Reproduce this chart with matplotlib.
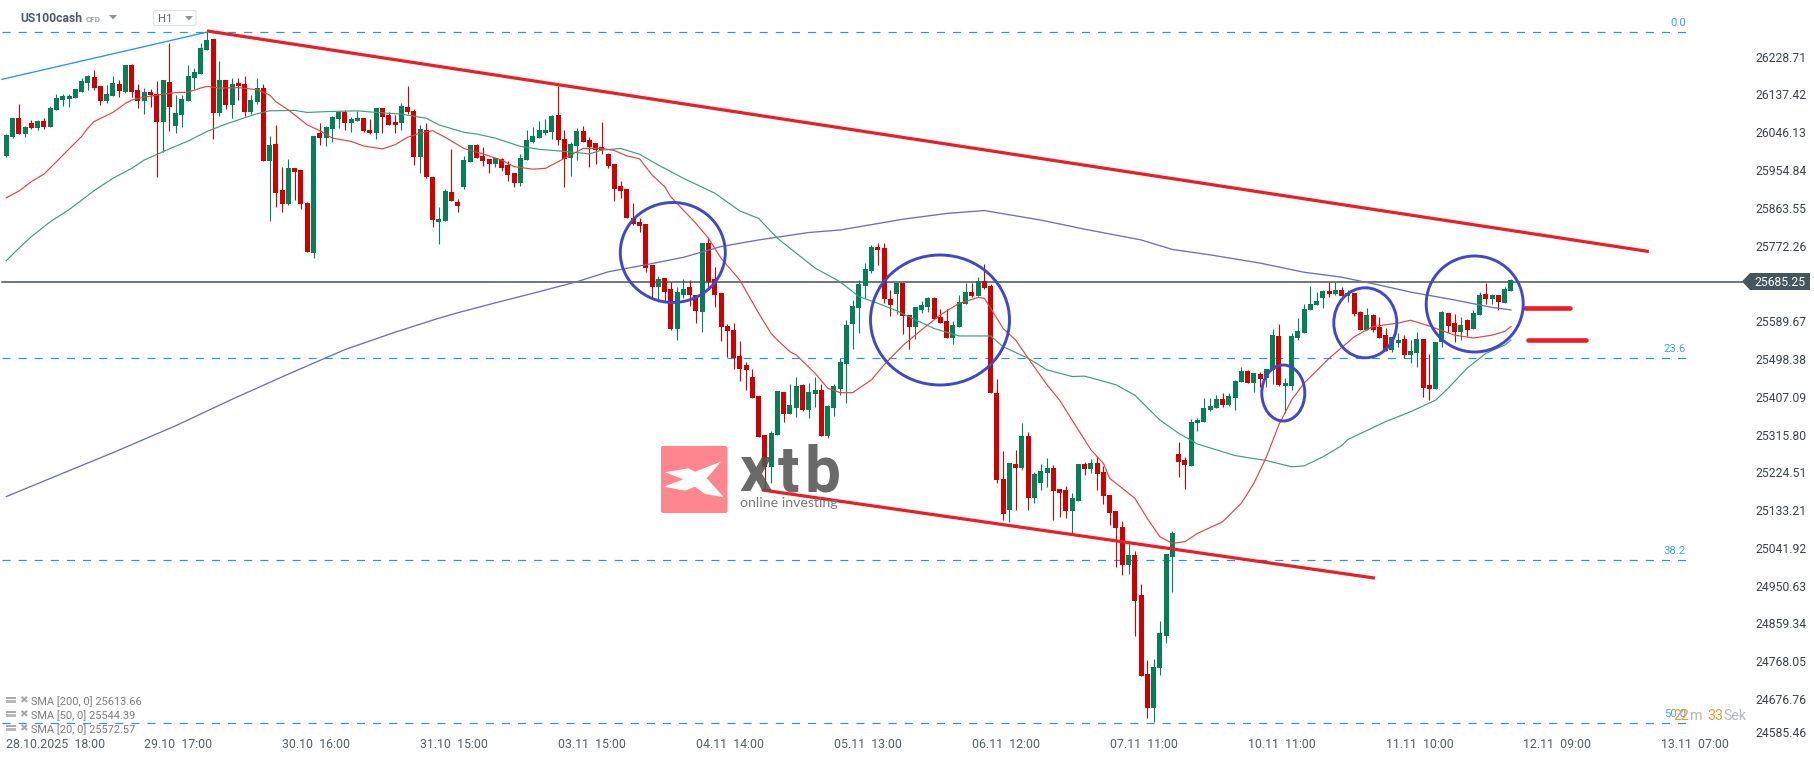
#!/usr/bin/env python3
"""US100cash H1 candles with SMA overlays, fibo levels and hand drawn channel."""

import matplotlib
matplotlib.use("Agg")
import matplotlib.pyplot as plt
import numpy as np
from matplotlib.patches import Ellipse, FancyBboxPatch, Polygon
from matplotlib.transforms import Affine2D

plt.rcParams["font.family"] = ["Roboto", "DejaVu Sans"]
plt.rcParams["lines.scale_dashes"] = False

WIDTH, HEIGHT = 1815, 761

opens = [
    25989, 26035, 26081, 26042, 26069, 26057, 26074, 26059, 26100, 26124,
    26127, 26129, 26144, 26165, 26180, 26158, 26122, 26134, 26163, 26144,
    26209, 26148, 26122, 26144, 26139, 26071, 26168, 26061, 26088, 26122,
    26178, 26187, 26245, 26272, 26093, 26173, 26112, 26165, 26163, 26095,
    26119, 26153, 25977, 26018, 25907, 25873, 25960, 25955, 25876, 25755,
    26045, 26033, 26054, 26078, 26095, 26069, 26074, 26081, 26052, 26045,
    26105, 26088, 26071, 26069, 26107, 26098, 25987, 26052, 25938, 25830,
    25832, 25902, 25878, 25914, 25974, 26016, 25989, 25982, 25970, 25982,
    25967, 25948, 25924, 25979, 26023, 26033, 26045, 26047, 26088, 26030,
    25984, 26013, 26049, 26028, 26020, 26011, 25994, 25970, 25917, 25909,
    25839, 25830, 25825, 25726, 25672, 25694, 25668, 25571, 25653, 25672,
    25653, 25612, 25779, 25692, 25658, 25578, 25569, 25506, 25484, 25455,
    25409, 25315, 25238, 25315, 25419, 25366, 25380, 25436, 25375, 25414,
    25424, 25312, 25380, 25426, 25486, 25583, 25622, 25675, 25711, 25769,
    25767, 25643, 25656, 25682, 25605, 25576, 25617, 25624, 25646, 25600,
    25590, 25549, 25576, 25631, 25660, 25651, 25687, 25675, 25416, 25208,
    25134, 25245, 25235, 25312, 25163, 25199, 25223, 25235, 25184, 25182,
    25131, 25155, 25245, 25233, 25247, 25225, 25170, 25131, 25093, 25001,
    25025, 24928, 24737, 24655, 24752, 24829, 25020, 25269, 25254, 25240,
    25344, 25346, 25375, 25380, 25402, 25387, 25404, 25443, 25469, 25440,
    25462, 25453, 25472, 25554, 25433, 25433, 25549, 25561, 25617, 25629,
    25646, 25663, 25656, 25665, 25651, 25658, 25612, 25569, 25605, 25576,
    25556, 25520, 25537, 25547, 25508, 25513, 25547, 25436, 25426, 25540,
    25610, 25585, 25564, 25593, 25571, 25605, 25656, 25643, 25653, 25634,
    25663,
]
highs = [
    26041, 26081, 26115, 26061, 26076, 26076, 26081, 26110, 26139, 26139,
    26139, 26151, 26178, 26185, 26197, 26158, 26161, 26182, 26173, 26209,
    26211, 26163, 26153, 26151, 26170, 26173, 26262, 26136, 26136, 26209,
    26202, 26262, 26291, 26272, 26219, 26173, 26178, 26178, 26182, 26136,
    26178, 26163, 26037, 26064, 25962, 25982, 25960, 25955, 25878, 26037,
    26069, 26061, 26086, 26098, 26100, 26083, 26098, 26081, 26078, 26105,
    26105, 26095, 26088, 26117, 26158, 26103, 26064, 26069, 25938, 25866,
    25909, 26006, 25885, 25989, 26016, 26018, 26011, 25982, 25984, 25984,
    25977, 25948, 25994, 26052, 26059, 26074, 26078, 26088, 26158, 26052,
    26023, 26057, 26061, 26035, 26020, 26071, 25996, 25970, 25929, 25909,
    25875, 25839, 25825, 25726, 25699, 25694, 25685, 25672, 25692, 25689,
    25653, 25779, 25793, 25721, 25658, 25583, 25585, 25542, 25491, 25474,
    25409, 25315, 25324, 25421, 25419, 25438, 25455, 25438, 25440, 25455,
    25438, 25387, 25438, 25501, 25593, 25641, 25689, 25730, 25774, 25779,
    25779, 25665, 25682, 25682, 25605, 25624, 25639, 25648, 25648, 25619,
    25619, 25590, 25653, 25682, 25682, 25697, 25728, 25680, 25450, 25276,
    25247, 25279, 25344, 25322, 25225, 25245, 25259, 25242, 25184, 25192,
    25175, 25245, 25250, 25257, 25264, 25240, 25170, 25131, 25107, 25059,
    25034, 24955, 24771, 24773, 24865, 25027, 25083, 25298, 25262, 25353,
    25356, 25404, 25404, 25411, 25416, 25416, 25448, 25479, 25472, 25465,
    25467, 25474, 25571, 25583, 25453, 25561, 25598, 25631, 25675, 25660,
    25665, 25685, 25685, 25672, 25665, 25658, 25614, 25622, 25607, 25600,
    25573, 25552, 25561, 25556, 25544, 25564, 25547, 25511, 25540, 25614,
    25610, 25607, 25600, 25595, 25617, 25660, 25682, 25656, 25653, 25672,
    25692,
]
lows = [
    25987, 26033, 26042, 26035, 26054, 26052, 26054, 26059, 26100, 26110,
    26107, 26129, 26144, 26148, 26148, 26112, 26117, 26134, 26132, 26141,
    26132, 26105, 26091, 26107, 25938, 25999, 26049, 26045, 26059, 26122,
    26151, 26187, 26245, 26030, 26086, 26103, 26081, 26124, 26086, 26091,
    26115, 25977, 25832, 25866, 25854, 25871, 25883, 25861, 25757, 25743,
    26016, 26013, 26023, 26057, 26052, 26047, 26074, 26047, 26042, 26030,
    26045, 26064, 26045, 26052, 26091, 25967, 25948, 25936, 25817, 25776,
    25832, 25880, 25854, 25909, 25974, 25984, 25965, 25948, 25962, 25953,
    25929, 25914, 25917, 25979, 26020, 26033, 26040, 26030, 26016, 25914,
    25941, 25979, 26023, 25962, 25970, 25994, 25960, 25880, 25888, 25839,
    25822, 25805, 25709, 25643, 25636, 25639, 25569, 25544, 25646, 25627,
    25585, 25564, 25665, 25624, 25542, 25503, 25474, 25445, 25424, 25404,
    25310, 25182, 25199, 25315, 25346, 25366, 25358, 25373, 25356, 25383,
    25312, 25308, 25361, 25411, 25392, 25523, 25561, 25646, 25706, 25726,
    25634, 25602, 25607, 25559, 25523, 25547, 25610, 25612, 25595, 25585,
    25549, 25535, 25576, 25631, 25648, 25651, 25668, 25416, 25199, 25109,
    25105, 25134, 25230, 25134, 25150, 25182, 25189, 25109, 25117, 25114,
    25073, 25155, 25218, 25223, 25182, 25148, 25097, 24996, 24977, 24979,
    24829, 24732, 24631, 24621, 24735, 24812, 24935, 25213, 25184, 25240,
    25324, 25346, 25373, 25380, 25383, 25385, 25375, 25443, 25440, 25419,
    25431, 25431, 25438, 25433, 25368, 25424, 25544, 25561, 25617, 25629,
    25622, 25648, 25653, 25651, 25636, 25602, 25569, 25569, 25564, 25549,
    25518, 25515, 25527, 25501, 25489, 25479, 25407, 25399, 25426, 25527,
    25564, 25540, 25544, 25554, 25571, 25605, 25631, 25631, 25617, 25634,
    25663,
]
closes = [
    26040, 26081, 26042, 26059, 26057, 26074, 26059, 26105, 26129, 26134,
    26134, 26151, 26170, 26182, 26153, 26122, 26139, 26165, 26146, 26209,
    26144, 26122, 26144, 26136, 26071, 26173, 26107, 26093, 26127, 26182,
    26192, 26250, 26269, 26093, 26173, 26112, 26163, 26158, 26095, 26124,
    26153, 25977, 26016, 25900, 25873, 25960, 25950, 25873, 25757, 26037,
    26033, 26059, 26083, 26095, 26069, 26078, 26081, 26049, 26045, 26105,
    26083, 26064, 26064, 26110, 26095, 25987, 26054, 25938, 25834, 25837,
    25904, 25880, 25868, 25979, 26016, 25984, 25977, 25970, 25984, 25960,
    25943, 25924, 25984, 26028, 26037, 26052, 26052, 26086, 26028, 25982,
    26018, 26049, 26023, 26011, 26003, 26003, 25965, 25909, 25904, 25839,
    25825, 25820, 25718, 25672, 25692, 25660, 25571, 25660, 25668, 25653,
    25614, 25779, 25685, 25653, 25576, 25566, 25501, 25474, 25472, 25404,
    25310, 25238, 25320, 25421, 25366, 25387, 25433, 25375, 25419, 25424,
    25312, 25385, 25433, 25491, 25581, 25627, 25680, 25716, 25769, 25762,
    25643, 25629, 25682, 25602, 25576, 25624, 25629, 25646, 25595, 25585,
    25549, 25581, 25636, 25660, 25651, 25687, 25670, 25416, 25206, 25124,
    25247, 25235, 25312, 25163, 25221, 25228, 25235, 25180, 25175, 25131,
    25163, 25245, 25233, 25247, 25221, 25167, 25126, 25090, 25001, 25025,
    24914, 24732, 24655, 24754, 24836, 25027, 25078, 25250, 25242, 25346,
    25351, 25380, 25385, 25402, 25387, 25409, 25445, 25469, 25440, 25465,
    25450, 25474, 25556, 25436, 25440, 25554, 25566, 25619, 25631, 25639,
    25663, 25656, 25665, 25651, 25658, 25607, 25569, 25605, 25569, 25549,
    25518, 25552, 25544, 25508, 25518, 25547, 25428, 25426, 25540, 25612,
    25578, 25564, 25581, 25569, 25610, 25653, 25643, 25653, 25636, 25668,
    25689,
]

# moving averages, read at candle numbers
sma20_bars = [
    0, 2, 4, 6, 8, 10, 12, 13, 14, 17, 19, 20, 22, 24, 27, 29, 31, 32, 34, 37,
    40, 42, 43, 45, 46, 48, 50, 52, 55, 57, 60, 62, 64, 66, 68, 70, 73, 76, 79,
    81, 84, 86, 88, 90, 92, 95, 97, 99, 101, 103, 105, 106, 110, 112, 114, 117,
    120, 122, 123, 125, 126, 129, 131, 133, 135, 138, 140, 143, 146, 149, 152,
    155, 156, 157, 159, 161, 163, 166, 168, 170, 171, 173, 175, 176, 178, 180,
    182, 184, 186, 188, 190, 194, 197, 199, 201, 203, 205, 207, 211, 215, 218,
    222, 224, 227, 229, 231, 234, 237, 239, 240,
]
sma20_vals = [
    25888, 25904, 25927, 25945, 25975, 26006, 26036, 26056, 26072, 26094, 26116,
    26124, 26131, 26136, 26142, 26143, 26153, 26157, 26153, 26154, 26149, 26136,
    26120, 26100, 26088, 26064, 26050, 26032, 26024, 26013, 26006, 26016, 26034,
    26044, 26050, 26034, 26007, 25994, 25979, 25963, 25957, 25959, 25975, 25991,
    26007, 26007, 26002, 25989, 25982, 25943, 25915, 25890, 25826, 25790, 25742,
    25689, 25609, 25560, 25544, 25516, 25508, 25464, 25428, 25417, 25417, 25448,
    25484, 25531, 25569, 25605, 25633, 25647, 25645, 25621, 25572, 25544, 25500,
    25436, 25399, 25351, 25327, 25279, 25246, 25210, 25186, 25162, 25113, 25069,
    25053, 25057, 25077, 25105, 25150, 25198, 25262, 25340, 25399, 25440, 25500,
    25552, 25577, 25585, 25592, 25578, 25567, 25556, 25549, 25556, 25565, 25577,
]
sma50_bars = [
    0, 2, 4, 7, 10, 14, 17, 20, 22, 26, 29, 32, 35, 40, 42, 46, 48, 51, 56, 59,
    63, 67, 69, 73, 75, 78, 82, 85, 89, 93, 95, 98, 101, 104, 108, 113, 117,
    120, 123, 129, 133, 136, 139, 142, 145, 148, 152, 155, 157, 159, 163, 166,
    170, 172, 177, 180, 184, 187, 190, 196, 201, 205, 207, 210, 213, 214, 220,
    224, 228, 230, 233, 236, 239, 240,
]
sma50_vals = [
    25736, 25766, 25794, 25830, 25859, 25905, 25935, 25959, 25979, 26006, 26025,
    26048, 26066, 26091, 26098, 26099, 26094, 26096, 26098, 26094, 26090, 26080,
    26064, 26046, 26042, 26032, 26012, 26005, 26000, 25994, 26003, 26007, 25993,
    25967, 25935, 25899, 25856, 25838, 25790, 25718, 25685, 25649, 25633, 25615,
    25593, 25572, 25554, 25554, 25554, 25528, 25500, 25472, 25456, 25457, 25436,
    25411, 25351, 25319, 25293, 25265, 25253, 25238, 25240, 25262, 25289, 25304,
    25347, 25371, 25399, 25428, 25476, 25512, 25532, 25544,
]
sma200_bars = [
    0, 8, 17, 27, 36, 45, 54, 62, 69, 72, 78, 85, 91, 96, 102, 108, 114, 120,
    128, 133, 143, 150, 156, 165, 172, 181, 186, 192, 200, 207, 213, 219, 224,
    231, 237, 240,
]
sma200_vals = [
    25166, 25216, 25272, 25337, 25401, 25462, 25521, 25563, 25597, 25610, 25634,
    25661, 25685, 25709, 25726, 25744, 25770, 25786, 25804, 25810, 25836, 25850,
    25857, 25834, 25812, 25786, 25763, 25750, 25730, 25708, 25696, 25677, 25660,
    25641, 25623, 25617,
]

# analysis drawings, as bar number and price
upper_channel_bars = [32, 262]
upper_channel_prices = [26291, 25758]
lower_channel_bars = [120.5, 218.3]
lower_channel_prices = [25182, 24969]
swing_bars = [-0.7, 32]
swing_prices = [26174, 26288]
fib_labels = ["0.0", "23.6", "38.2", "50.0"]
fib_prices = [26288, 25500, 25013, 24619]
last_price = 25685.25
resistance_price = 25621
support_price = 25544

xtick_bars = [0, 22, 44, 66, 88, 110, 132, 154, 176, 198, 220, 242, 264]
xtick_labels = [
    "28.10.2025  18:00", "29.10  17:00", "30.10  16:00", "31.10  15:00",
    "03.11  15:00", "04.11  14:00", "05.11  13:00", "06.11  12:00",
    "07.11  11:00", "10.11  11:00", "11.11  10:00", "12.11  09:00",
    "13.11  07:00",
]
ytick_labels = [
    "26228.71", "26137.42", "26046.13", "25954.84", "25863.55", "25772.26",
    "25589.67", "25498.38", "25407.09", "25315.80", "25224.51", "25133.21",
    "25041.92", "24950.63", "24859.34", "24768.05", "24676.76", "24585.46",
]
legend_labels = ["SMA [200, 0] 25613.66", "SMA [50, 0] 25544.39", "SMA [20, 0] 25572.57"]


def draw_candles(ax):
    bars = np.arange(len(opens))
    o, h, l, c = map(np.array, (opens, highs, lows, closes))
    colors = np.where(c >= o, "#047f56", "#cf0000")
    ax.vlines(bars, l, h, colors=colors, linewidth=0.8, zorder=2)
    ax.bar(bars, np.abs(c - o), bottom=np.minimum(o, c), width=0.8, color=colors, linewidth=0, zorder=2.1)


def draw_levels(ax):
    fib_right = 268.6
    for label, price in zip(fib_labels, fib_prices):
        ax.plot([-0.7, fib_right], [price, price], color="#1f95f5", lw=0.85,
                linestyle=(0, (5.8, 5.8)), zorder=1.5)
        ax.annotate(label, (fib_right, price), xytext=(-3, 2.8), textcoords="offset points",
                    ha="right", va="bottom", fontsize=8.2, color="#3fa4f5")
    ax.plot([-0.7, 276.8], [last_price, last_price], color="#46525b", lw=1.1, zorder=1.6)
    ax.plot(swing_bars, swing_prices, color="#2196f3", lw=0.95, zorder=3)


def draw_drawings(ax, px):
    red = "#ee1c25"
    ax.plot(upper_channel_bars, upper_channel_prices, color=red, lw=2.3, solid_capstyle="butt", zorder=4)
    ax.plot(lower_channel_bars, lower_channel_prices, color=red, lw=2.3, solid_capstyle="butt", zorder=4)
    # two short marks to the right of the last candle
    ax.plot([242.3, 249.4], [resistance_price] * 2, color=red, lw=3.3, solid_capstyle="round", zorder=4)
    ax.plot([242.7, 251.9], [support_price] * 2, color=red, lw=3.3, solid_capstyle="round", zorder=4)

    rings = [
        (672.8, 252.5, 105, 100), (940, 320, 139, 130), (1283.3, 393, 43, 56),
        (1365.3, 322.8, 63, 70), (1474.7, 304, 97, 96),
    ]
    for cx, cy, w, h in rings:
        ax.add_patch(Ellipse((cx, cy), w, h, fill=False, edgecolor="#3f48cc", lw=2.1,
                             transform=px, zorder=5))


def draw_watermark(ax, px):
    ax.add_patch(FancyBboxPatch((661, 446), 66.5, 67, boxstyle="round,pad=0,rounding_size=2",
                                facecolor="#ff7f88", edgecolor="none", alpha=0.95,
                                transform=px, zorder=6))
    star = [(665, 472.3), (688.3, 468.3), (695, 471.7), (721, 461.7), (706.7, 478.3), (724, 497.3),
            (705, 494), (695, 486.7), (685, 490.7), (664, 486.7), (683.3, 479.3)]
    ax.add_patch(Polygon(star, closed=True, facecolor="white", edgecolor="none", transform=px, zorder=6.1))
    for letter, left in zip("xtb", (739.5, 778, 804)):
        ax.text(left, 491, letter, transform=px, fontsize=46, fontweight="bold", color="#555555",
                alpha=0.88, ha="left", va="baseline", zorder=6.1)
    ax.text(740, 503, "online investing", transform=px, fontsize=10.2, family="Lato", color="#7a7a7a",
            ha="left", va="center", zorder=6.1)


def draw_header(ax, px):
    ax.text(20, 19, "US100cash", transform=px, fontsize=8.7, fontweight="bold", color="#4b5b67", va="center")
    ax.text(85.5, 19.5, "CFD", transform=px, fontsize=5.8, fontweight="bold", color="#98a2a9", va="center")
    ax.add_patch(Polygon([(109, 15), (117, 15), (113, 19.5)], facecolor="#8b959c", edgecolor="none", transform=px))
    ax.add_patch(FancyBboxPatch((153.5, 10.5), 42.5, 15, boxstyle="round,pad=0,rounding_size=2",
                                facecolor="white", edgecolor="#dfe3e6", lw=0.8, transform=px))
    ax.text(158, 19.5, "H1", transform=px, fontsize=8.2, color="#5a6670", va="center")
    ax.add_patch(Polygon([(185, 16), (193, 16), (189, 20.5)], facecolor="#8b959c", edgecolor="none", transform=px))


def draw_legend(ax, px):
    for row, label in zip((701.3, 715.3, 729.3), legend_labels):
        ax.add_patch(Polygon([(6, row - 4.5), (16, row - 4.5), (16, row - 2), (6, row - 2)],
                             facecolor="#a9a9a9", edgecolor="none", transform=px, zorder=6))
        ax.add_patch(Polygon([(6, row - 1), (16, row - 1), (16, row + 2), (6, row + 2)],
                             facecolor="#b8b8b8", edgecolor="none", transform=px, zorder=6))
        ax.text(23.5, row - 1, "\u2716", transform=px, fontsize=7.5, family="DejaVu Sans", color="#a9a9a9",
                ha="center", va="center", zorder=6)
        ax.text(31, row + 0.5, label, transform=px, fontsize=7.9, color="#7c7c7c", va="center", zorder=6)


def draw_price_tag(ax, px):
    tag = [(1742, 281.5), (1750, 273), (1810, 273), (1810, 290), (1750, 290)]
    ax.add_patch(Polygon(tag, closed=True, facecolor="#455660", edgecolor="none", transform=px, zorder=6))
    ax.text(1754, 282.5, f"{last_price:.2f}", transform=px, fontsize=8.7, color="white", va="center", zorder=7)


def draw_countdown(ax, px):
    parts = [(1673, "22", "#f59a23"), (1690, "m", "#b0b6ba"), (1707, "33", "#f59a23"), (1723, "Sek", "#b0b6ba")]
    for left, text, color in parts:
        ax.text(left, 716.5, text, transform=px, fontsize=10.2, color=color, va="center", zorder=7)


def main() -> None:
    fig = plt.figure(figsize=(WIDTH / 100, HEIGHT / 100), dpi=100, facecolor="white")
    ax = fig.add_axes([0, 0, 1, 1])
    ax.set_xlim(-1.01, 288.5)
    ax.set_ylim(24527.1, 26365.7)
    for spine in ax.spines.values():
        spine.set_visible(False)

    # figure pixels, origin top left, for the drawings that are not tied to a price
    px = Affine2D().scale(1, -1).translate(0, HEIGHT)

    ax.set_xticks(xtick_bars, xtick_labels, ha="left")
    ytick_prices = [float(label) for label in ytick_labels]
    ytick_prices[-1] += 12  # platform pushes the lowest label up off the edge
    ax.set_yticks(ytick_prices, ytick_labels)
    ax.tick_params(axis="x", length=0, pad=-16.6, labelsize=8.9, labelcolor="#555f66")
    ax.tick_params(axis="y", length=0, left=False, labelleft=False, right=False, labelright=True,
                   pad=-43.2, labelsize=8.7, labelcolor="#39444c")

    draw_levels(ax)
    draw_candles(ax)
    ax.plot(sma200_bars, sma200_vals, color="#6a70bd", lw=0.95, zorder=3)
    ax.plot(sma50_bars, sma50_vals, color="#3aa07f", lw=0.85, zorder=3)
    ax.plot(sma20_bars, sma20_vals, color="#e24444", lw=0.85, zorder=3)
    draw_drawings(ax, px)
    draw_watermark(ax, px)
    draw_header(ax, px)
    draw_legend(ax, px)
    draw_price_tag(ax, px)
    draw_countdown(ax, px)

    fig.savefig("out.png", dpi=100)
    plt.close(fig)


if __name__ == "__main__":
    main()
